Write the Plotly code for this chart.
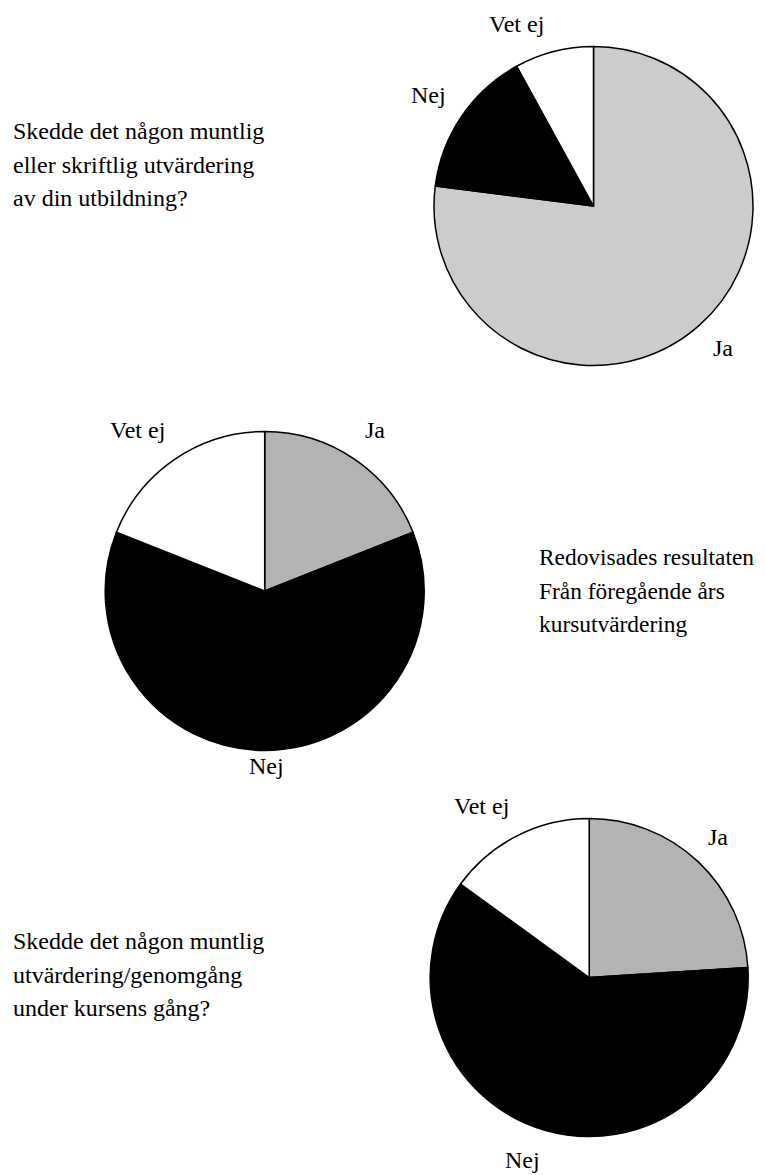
import plotly.graph_objects as go

# The page body adds an 8px margin; the figure is sized to fill the rest.
OFF = 8
W, H = 765 - OFF, 1175 - OFF

# Data
labels = ["Ja", "Nej", "Vet ej"]
q1_values = [77, 15, 8]
q2_values = [19, 62, 19]
q3_values = [24, 61, 15]
q1_colors = ["#cccccc", "#000000", "#ffffff"]
q2_colors = ["#b3b3b3", "#000000", "#ffffff"]
q3_colors = ["#b3b3b3", "#000000", "#ffffff"]
q1_text = ["Skedde det någon muntlig", "eller skriftlig utvärdering", "av din utbildning?"]
q2_text = ["Redovisades resultaten", "Från föregående års", "kursutvärdering"]
q3_text = ["Skedde det någon muntlig", "utvärdering/genomgång", "under kursens gång?"]

FONT = "Liberation Serif, Times New Roman, serif"
FS = 24


def px_x(x):
    return (x - OFF) / W


def px_y(y):
    return 1 - (y - OFF) / H


def dom(cx, cy, r):
    return dict(x=[px_x(cx - r), px_x(cx + r)], y=[px_y(cy + r), px_y(cy - r)])


fig = go.Figure()
for vals, cols, (cx, cy, r) in [
    (q1_values, q1_colors, (593.5, 206, 159.5)),
    (q2_values, q2_colors, (264.7, 591, 159.5)),
    (q3_values, q3_colors, (589.2, 977.5, 159)),
]:
    fig.add_trace(go.Pie(
        labels=labels, values=vals, sort=False, direction="clockwise", rotation=0,
        marker=dict(colors=cols, line=dict(color="black", width=1.5)),
        textinfo="none", hoverinfo="label+percent", showlegend=False,
        domain=dom(cx, cy, r),
    ))

ann = []


def add(text, x, y, xanchor="center", size=FS):
    ann.append(dict(text=text, x=px_x(x), y=px_y(y), xref="paper", yref="paper",
                    xanchor=xanchor, yanchor="middle", showarrow=False,
                    font=dict(family=FONT, size=size, color="black")))


# slice labels
add(labels[2], 516, 23.5)
add(labels[1], 428, 94.5)
add(labels[0], 723, 347.5)
add(labels[2], 137.5, 430)
add(labels[0], 375, 430)
add(labels[1], 266.7, 766)
add(labels[2], 481.7, 806)
add(labels[0], 718, 837)
add(labels[1], 522.5, 1159.5)

for lines, x0, ys, size in [
    (q1_text, 11, [131, 164.5, 198], FS),
    (q2_text, 536.5, [557, 590.5, 624], 23.4),
    (q3_text, 11, [941, 974.5, 1008], FS),
]:
    for t, y in zip(lines, ys):
        add(t, x0, y, "left", size)

fig.update_layout(width=W, height=H, margin=dict(l=0, r=0, t=0, b=0),
                  paper_bgcolor="white", plot_bgcolor="white", annotations=ann)
fig.write_html("out.html")
